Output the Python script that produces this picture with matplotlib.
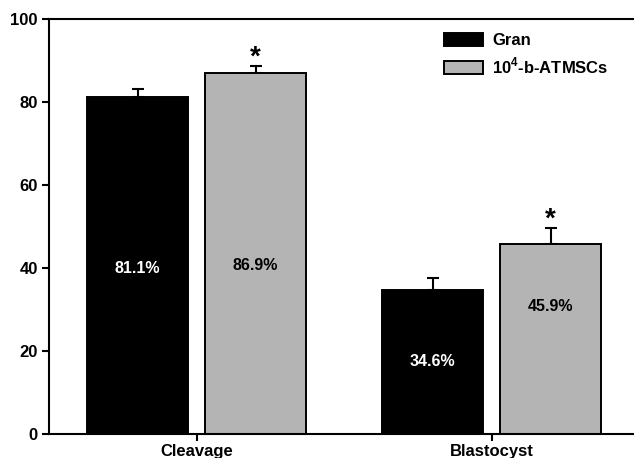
import numpy as np
import matplotlib
matplotlib.use("Agg")
import matplotlib.pyplot as plt

plt.rcParams["font.family"] = ["Liberation Sans", "DejaVu Sans"]
plt.rcParams["font.weight"] = "bold"
plt.rcParams["mathtext.fontset"] = "custom"
plt.rcParams["mathtext.rm"] = "Liberation Sans:bold"
plt.rcParams["mathtext.bf"] = "Liberation Sans:bold"

# data
stages = ["Cleavage", "Blastocyst"]
series = ["Gran", r"10$^{\mathbf{4}}$-b-ATMSCs"]
gran = [81.1, 34.6]
atmsc = [86.9, 45.9]
gran_err = [2.0, 3.0]
atmsc_err = [1.8, 3.8]
gran_labels = ["81.1%", "34.6%"]
atmsc_labels = ["86.9%", "45.9%"]
# height (in data units) where the percentage text sits inside each bar
gran_label_y = [39.8, 17.4]
atmsc_label_y = [40.5, 30.8]
significant = [True, True]

fig = plt.figure(figsize=(6.34, 4.58), dpi=100)
ax = fig.add_axes([49 / 634, 24 / 458, 590 / 634, 415 / 458])

x = np.arange(len(stages))
width = 0.343
off = 0.2

ax.bar(x - off, gran, width, color="black", edgecolor="black",
       linewidth=1.4, label=series[0], zorder=2)
ax.bar(x + off, atmsc, width, color="#b4b4b4", edgecolor="black",
       linewidth=1.4, label=series[1], zorder=2)

ax.errorbar(x - off, gran, yerr=[np.zeros(len(x)), gran_err], fmt="none",
            ecolor="black", elinewidth=1.5, capsize=4.6, capthick=1.5, zorder=1)
ax.errorbar(x + off, atmsc, yerr=[np.zeros(len(x)), atmsc_err], fmt="none",
            ecolor="black", elinewidth=1.5, capsize=4.6, capthick=1.5, zorder=1)

for i in range(len(x)):
    ax.text(x[i] - off, gran_label_y[i], gran_labels[i], color="white",
            ha="center", va="center", fontsize=11.5, fontweight="bold", zorder=3)
    ax.text(x[i] + off, atmsc_label_y[i], atmsc_labels[i], color="black",
            ha="center", va="center", fontsize=11.5, fontweight="bold", zorder=3)
    if significant[i]:
        ax.annotate("*", (x[i] + off, atmsc[i] + atmsc_err[i]),
                    xytext=(0, 1), textcoords="offset points", ha="center",
                    va="baseline", fontsize=20, fontweight="bold")

ax.set_xlim(-0.5, 1.5)
ax.set_ylim(0, 100)
ax.set_yticks(np.arange(0, 101, 20))
ax.set_xticks(x)
ax.set_xticklabels(stages)
ax.tick_params(axis="both", direction="out", width=1.5, length=5,
               labelsize=12, pad=3)
ax.tick_params(axis="x", pad=2)
for lab in ax.get_xticklabels() + ax.get_yticklabels():
    lab.set_fontweight("bold")

for side in ["left", "bottom", "top"]:
    ax.spines[side].set_linewidth(1.5)
ax.spines["right"].set_visible(False)

leg = ax.legend(loc="upper left", bbox_to_anchor=(444 / 634, 1 - 33 / 458),
                bbox_transform=fig.transFigure, frameon=False, fontsize=12,
                handlelength=2.35, handleheight=0.8, handletextpad=0.55,
                labelspacing=0.45, borderpad=0, borderaxespad=0)
for t in leg.get_texts():
    t.set_fontweight("bold")

fig.savefig("out.png", dpi=100)
